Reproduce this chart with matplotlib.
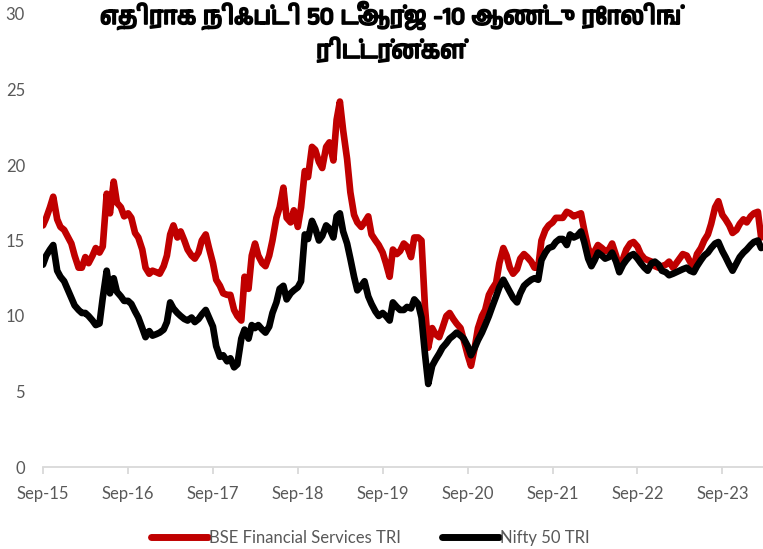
import numpy as np
import pandas as pd
import matplotlib
matplotlib.use('Agg')
import matplotlib.pyplot as plt
import matplotlib.dates as mdates
import matplotlib.patheffects as pe

# semi-monthly readings, Sep-15 to Feb-24
dates = pd.date_range('2015-09-01', periods=204, freq='SMS')

bse_fin = [
    16.0, 16.5, 17.2, 17.9, 16.4, 15.9, 15.7, 15.3, 14.8, 14.0,
    13.2, 13.2, 13.9, 13.5, 14.0, 14.5, 14.2, 14.6, 18.1, 16.8,
    18.9, 17.5, 17.2, 16.6, 16.8, 16.5, 15.5, 15.2, 14.4, 13.2,
    12.8, 13.0, 12.9, 12.8, 13.3, 14.0, 15.4, 16.0, 15.2, 15.6,
    15.0, 14.4, 14.0, 13.8, 14.2, 15.0, 15.4, 14.5, 13.5, 12.4,
    12.0, 11.5, 11.4, 11.4, 10.4, 10.0, 9.7, 12.6, 11.8, 14.0,
    14.8, 14.0, 13.5, 13.3, 14.0, 15.0, 16.5, 17.2, 18.5, 16.5,
    16.2, 17.0, 15.9, 17.2, 19.6, 19.2, 21.2, 21.0, 20.2, 19.8,
    21.2, 21.5, 20.3, 23.0, 24.2, 22.3, 20.4, 18.2, 16.7, 16.2,
    15.9, 16.2, 16.6, 15.4, 15.0, 14.7, 14.2, 13.5, 12.6, 14.4,
    14.1, 14.3, 14.8, 14.6, 13.9, 15.2, 15.2, 15.0, 10.6, 7.9,
    9.2, 8.8, 8.6, 9.2, 10.0, 10.2, 9.8, 9.5, 9.2, 8.4,
    7.4, 6.7, 7.9, 9.2, 10.0, 10.4, 11.4, 11.8, 12.2, 13.5,
    14.5, 14.0, 13.2, 12.8, 13.1, 13.8, 14.1, 13.9, 13.6, 13.2,
    13.2, 15.0, 15.7, 16.0, 16.2, 16.5, 16.5, 16.5, 16.9, 16.8,
    16.6, 16.7, 16.8, 15.7, 14.5, 14.0, 14.3, 14.7, 14.5, 14.3,
    14.4, 14.8, 14.0, 13.1, 13.8, 14.4, 14.8, 14.9, 14.6, 14.1,
    13.8, 13.7, 13.6, 13.3, 13.2, 13.3, 13.4, 13.6, 13.2, 13.5,
    13.8, 14.1, 14.0, 13.6, 13.3, 14.1, 14.5, 15.0, 15.4, 16.1,
    17.2, 17.6, 16.7, 16.4, 16.0, 15.5, 15.7, 16.1, 16.4, 16.2,
    16.6, 16.8, 16.9, 15.2,
]

nifty50 = [
    13.4, 14.0, 14.4, 14.7, 13.0, 12.6, 12.3, 11.8, 11.2, 10.7,
    10.4, 10.2, 10.2, 10.0, 9.7, 9.4, 9.5, 11.2, 13.0, 11.5,
    12.5, 11.6, 11.3, 11.0, 11.0, 10.8, 10.3, 9.9, 9.2, 8.6,
    9.0, 8.7, 8.8, 8.9, 9.1, 9.6, 10.9, 10.5, 10.2, 10.0,
    9.8, 9.7, 9.9, 9.6, 9.8, 10.1, 10.4, 9.9, 9.3, 8.0,
    7.3, 7.4, 7.0, 7.2, 6.6, 6.8, 8.5, 9.1, 8.5, 9.4,
    9.2, 9.4, 9.1, 8.9, 9.3, 10.2, 10.9, 11.8, 12.0, 11.1,
    11.5, 11.7, 11.9, 12.3, 15.4, 15.1, 16.3, 15.8, 15.0, 15.3,
    16.0, 15.8, 15.2, 16.6, 16.8, 15.6, 14.8, 13.8, 12.6, 11.7,
    12.0, 12.3, 11.3, 10.8, 10.3, 10.0, 10.2, 10.0, 9.7, 10.9,
    10.6, 10.4, 10.4, 10.6, 10.5, 11.1, 10.8, 9.9, 7.5, 5.5,
    6.7, 7.1, 7.5, 7.9, 8.2, 8.5, 8.7, 8.9, 8.7, 8.5,
    8.0, 7.4, 7.9, 8.4, 8.9, 9.4, 10.0, 10.6, 11.3, 11.9,
    12.4, 12.0, 11.6, 11.2, 10.9, 11.5, 12.0, 12.2, 12.4, 12.5,
    12.4, 13.7, 14.2, 14.5, 14.6, 14.9, 15.1, 15.1, 14.7, 15.4,
    15.2, 15.3, 15.6, 14.9, 13.8, 13.3, 13.7, 14.2, 14.0, 13.8,
    13.9, 14.2, 13.6, 12.9, 13.4, 13.7, 14.0, 14.1, 13.8, 13.5,
    13.2, 13.0, 13.5, 13.6, 13.4, 13.0, 12.9, 12.7, 12.8, 12.9,
    13.0, 13.1, 13.2, 13.0, 12.9, 13.3, 13.7, 14.0, 14.2, 14.5,
    14.8, 14.9, 14.3, 13.9, 13.4, 13.0, 13.5, 13.9, 14.2, 14.4,
    14.7, 14.9, 15.0, 14.5,
]

title = 'எதிராக நிஃப்டி 50 டீஆர்ஜ -10 ஆண்டு ரோலிங்\nரிட்டர்ன்கள்'
labels = ['BSE Financial Services TRI', 'Nifty 50 TRI']

plt.rcParams['font.family'] = ['Lato', 'DejaVu Sans']
grey = '#595959'

fig = plt.figure(figsize=(7.63, 5.49), dpi=100)
ax = fig.add_axes([43 / 763, 82 / 549, 720 / 763, 453 / 549])

ax.plot(dates, bse_fin, color='#c00000', lw=4.8, solid_capstyle='round',
        solid_joinstyle='round', label=labels[0])
ax.plot(dates, nifty50, color='black', lw=4.8, solid_capstyle='round',
        solid_joinstyle='round', label=labels[1])

ax.set_ylim(0, 30)
ax.set_xlim(pd.Timestamp('2015-09-01'), pd.Timestamp('2024-02-23'))
ax.set_yticks(range(0, 31, 5))
ax.xaxis.set_major_locator(mdates.MonthLocator(bymonth=9, bymonthday=1))
ax.xaxis.set_major_formatter(mdates.DateFormatter('%b-%y'))

for s in ['top', 'right', 'left']:
    ax.spines[s].set_visible(False)
ax.spines['bottom'].set_color('#d9d9d9')
ax.spines['bottom'].set_linewidth(1.3)
ax.tick_params(axis='x', colors='#d9d9d9', length=5, width=1.3, pad=9,
               labelcolor=grey, labelsize=12)
ax.tick_params(axis='y', length=0, pad=13, labelcolor=grey, labelsize=12)

leg = ax.legend(loc='upper center', bbox_to_anchor=(0.455, -0.105), ncol=2,
                frameon=False, fontsize=12, handlelength=3.4,
                handletextpad=0.1, columnspacing=2.45, labelcolor=grey)
for h in leg.get_lines():
    h.set_linewidth(5)

# variable font only gives the regular cut, so thicken it with a stroke
fig.text(0.512, 0.998, title, ha='center', va='top', fontsize=17.3,
         linespacing=1.35, family=['Anek Tamil', 'DejaVu Sans'],
         path_effects=[pe.withStroke(linewidth=1.3, foreground='black')])

fig.savefig('out.png', dpi=100)
